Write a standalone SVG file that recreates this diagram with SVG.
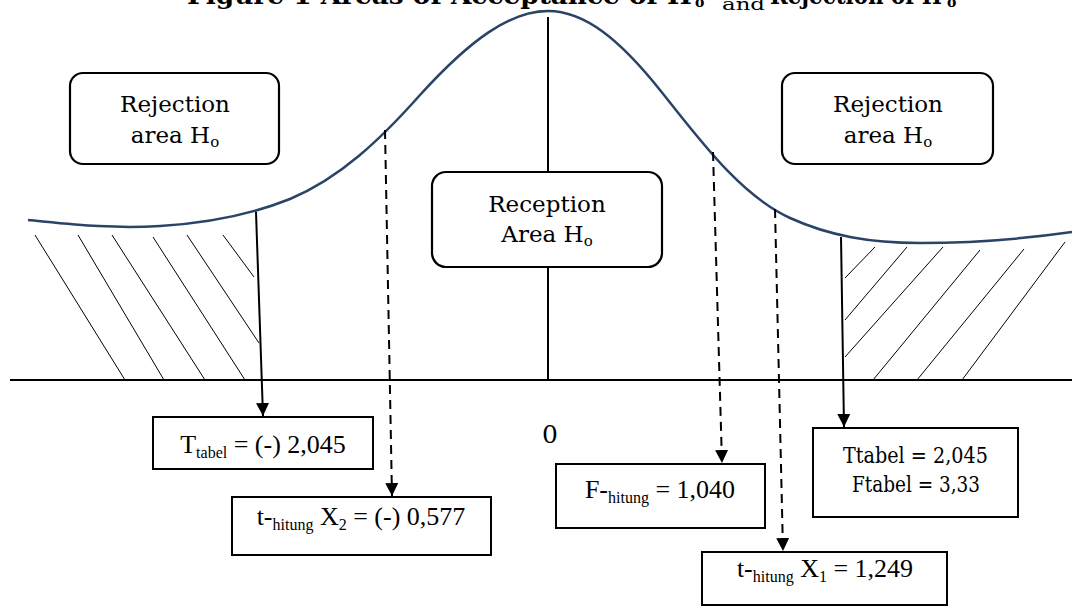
<svg xmlns="http://www.w3.org/2000/svg" width="1072" height="612" viewBox="0 0 1072 612">
<style>
.box{fill:#fff;stroke:#000;stroke-width:2}
.rbox{fill:#fff;stroke:#000;stroke-width:2.2}
.geo{font-family:"DejaVu Serif","Liberation Serif",serif;fill:#000}
.tnr{font-family:"Liberation Serif","Times New Roman",serif;fill:#000;font-size:26px}
.sub{font-size:16px}
.hatch{stroke:#000;stroke-width:1}
.solid{stroke:#000;stroke-width:2;fill:none}
.dash{stroke:#000;stroke-width:2;fill:none;stroke-dasharray:9 6}
</style>
<defs>
<marker id="ah" viewBox="0 0 13 13" markerWidth="13" markerHeight="13" refX="13" refY="6.5" orient="auto" markerUnits="userSpaceOnUse">
<path d="M0,0 L13,6.5 L0,13 z" fill="#000"/>
</marker>
</defs>
<rect width="1072" height="612" fill="#fff"/>

<g id="title" class="geo" font-weight="bold">
<text x="187" y="4" font-size="24" textLength="505" lengthAdjust="spacingAndGlyphs">Figure 1 Areas of Acceptance of H</text>
<text x="695" y="7" font-size="14">o</text>
<text x="722" y="10" font-size="17" font-weight="normal" textLength="43" lengthAdjust="spacingAndGlyphs">and</text>
<text x="770" y="4" font-size="24" textLength="172" lengthAdjust="spacingAndGlyphs">Rejection of H</text>
<text x="947" y="7" font-size="14">o</text>
</g>

<g id="axes">
<line x1="10" y1="380" x2="1072" y2="380" class="solid"/>
<line x1="548" y1="17" x2="548" y2="380" class="solid"/>
</g>

<g id="hatching">
<line class="hatch" x1="35" y1="235" x2="125" y2="380"/>
<line class="hatch" x1="78" y1="235" x2="164" y2="380"/>
<line class="hatch" x1="112" y1="235" x2="205" y2="380"/>
<line class="hatch" x1="153" y1="237" x2="245" y2="380"/>
<line class="hatch" x1="187" y1="235" x2="259" y2="343"/>
<line class="hatch" x1="223" y1="235" x2="254" y2="277"/>
<line class="hatch" x1="845" y1="278" x2="875" y2="247"/>
<line class="hatch" x1="845" y1="320" x2="907" y2="247"/>
<line class="hatch" x1="845" y1="357" x2="943" y2="247"/>
<line class="hatch" x1="873" y1="380" x2="980" y2="250"/>
<line class="hatch" x1="917" y1="380" x2="1024" y2="249"/>
<line class="hatch" x1="962" y1="380" x2="1065" y2="242"/>
</g>

<g id="curve">
<path d="M28,220 C70,224 110,229 160,226 C210,223 250,215 290,199 C340,178 380,140 420,95 C470,40 510,11 548,11 C585,11 620,40 660,90 C700,140 740,195 790,218 C830,236 870,243 920,243 C980,243 1030,238 1072,232" fill="none" stroke="#2a4466" stroke-width="2.5"/>
</g>

<g id="connectors">
<line class="solid" x1="256" y1="212" x2="263" y2="416" marker-end="url(#ah)"/>
<line class="dash" x1="385" y1="130" x2="392" y2="496" marker-end="url(#ah)"/>
<line class="dash" x1="713" y1="152" x2="722" y2="463" marker-end="url(#ah)"/>
<line class="dash" x1="775" y1="209" x2="783" y2="551" marker-end="url(#ah)"/>
<line class="solid" x1="841" y1="237" x2="844" y2="427" marker-end="url(#ah)"/>
</g>

<g id="rej-left">
<rect class="rbox" x="70" y="73" width="209" height="91" rx="13"/>
<text class="geo" x="175" y="112" font-size="23" text-anchor="middle">Rejection</text>
<text class="geo" x="175" y="143" font-size="23" text-anchor="middle">area H<tspan font-size="15" dy="4">o</tspan></text>
</g>

<g id="rej-right">
<rect class="rbox" x="782" y="73" width="211" height="91" rx="13"/>
<text class="geo" x="888" y="112" font-size="23" text-anchor="middle">Rejection</text>
<text class="geo" x="888" y="143" font-size="23" text-anchor="middle">area H<tspan font-size="15" dy="4">o</tspan></text>
</g>

<g id="reception">
<rect class="rbox" x="432" y="172" width="230" height="95" rx="14"/>
<text class="geo" x="547" y="212" font-size="23" text-anchor="middle">Reception</text>
<text class="geo" x="547" y="242" font-size="23" text-anchor="middle">Area H<tspan font-size="15" dy="4">o</tspan></text>
</g>

<g id="zero">
<text class="geo" x="550" y="443" font-size="25" text-anchor="middle">0</text>
</g>

<g id="ttabel-neg">
<rect class="box" x="153" y="417" width="220" height="52"/>
<text class="tnr" x="263" y="453" text-anchor="middle">T<tspan class="sub" dy="5">tabel</tspan><tspan dy="-5"> = (-) 2,045</tspan></text>
</g>

<g id="thitung-x2">
<rect class="box" x="232" y="497" width="259" height="58"/>
<text class="tnr" x="361" y="525" text-anchor="middle">t-<tspan class="sub" dy="5">hitung</tspan><tspan dy="-5"> X</tspan><tspan class="sub" dy="5">2</tspan><tspan dy="-5"> = (-) 0,577</tspan></text>
</g>

<g id="fhitung">
<rect class="box" x="556" y="464" width="209" height="64"/>
<text class="tnr" x="660" y="498" text-anchor="middle">F-<tspan class="sub" dy="5">hitung</tspan><tspan dy="-5"> = 1,040</tspan></text>
</g>

<g id="thitung-x1">
<rect class="box" x="702" y="552" width="245" height="53"/>
<text class="tnr" x="825" y="577" text-anchor="middle">t-<tspan class="sub" dy="5">hitung</tspan><tspan dy="-5"> X</tspan><tspan class="sub" dy="5">1</tspan><tspan dy="-5"> = 1,249</tspan></text>
</g>

<g id="ttabel-pos">
<rect class="box" x="813" y="428" width="205" height="89"/>
<text class="geo" x="843" y="463" font-size="23" textLength="145" lengthAdjust="spacingAndGlyphs">Ttabel = 2,045</text>
<text class="geo" x="852" y="492" font-size="23" textLength="128" lengthAdjust="spacingAndGlyphs">Ftabel = 3,33</text>
</g>
</svg>
